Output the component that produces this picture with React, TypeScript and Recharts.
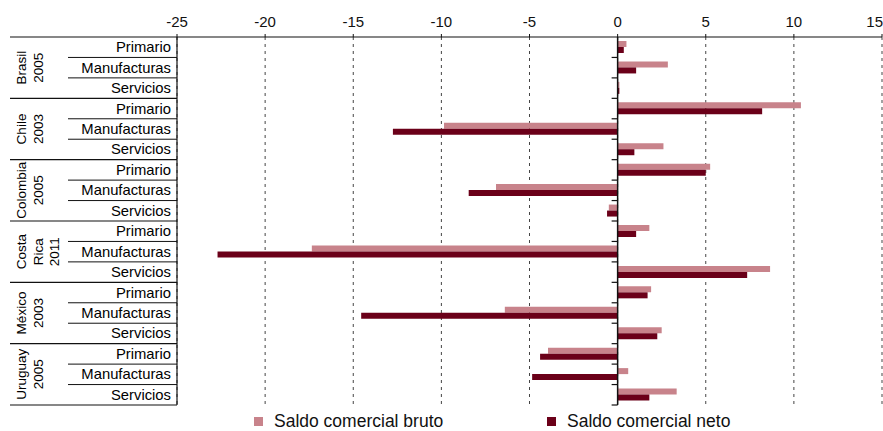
import React from "react";
import {
  BarChart,
  Bar,
  XAxis,
  YAxis,
  CartesianGrid,
  ReferenceLine,
} from "recharts";

const sectors = ["Primario", "Manufacturas", "Servicios"];
const groups = [
  ["Brasil", "2005"],
  ["Chile", "2003"],
  ["Colombia", "2005"],
  ["Costa", "Rica", "2011"],
  ["México", "2003"],
  ["Uruguay", "2005"],
];
// saldo comercial bruto / neto, one value per group x sector
const bruto = [0.5, 2.85, 0.1, 10.4, -9.85, 2.6, 5.25, -6.9, -0.5, 1.8, -17.35, 8.65, 1.9, -6.4, 2.5, -3.95, 0.6, 3.35];
const neto = [0.35, 1.05, 0.1, 8.2, -12.75, 0.95, 5.0, -8.45, -0.6, 1.05, -22.7, 7.35, 1.7, -14.55, 2.25, -4.4, -4.85, 1.8];
const xTicks = [-25, -20, -15, -10, -5, 0, 5, 10, 15];

const W = 883;
const H = 431;
const LEFT = 177;
const TOP = 37;
const BOTTOM = 405;
const X_MIN = -25;
const X_MAX = 15;

const BRUTO_COLOR = "#c8838b";
const NETO_COLOR = "#6b0019";
const FONT = "'Liberation Sans', Arial, sans-serif";

const data = bruto.map((b, i) => ({
  key: String(i),
  sector: sectors[i % 3],
  bruto: b,
  neto: neto[i],
}));

const band = (BOTTOM - TOP) / data.length;
const zeroX = LEFT + ((0 - X_MIN) / (X_MAX - X_MIN)) * (W - 1 - LEFT);

function ValueTick(props: any) {
  const { x, y, payload } = props;
  const last = payload.value === X_MAX;
  return (
    <text
      x={last ? x + 1 : x}
      y={y}
      textAnchor={last ? "end" : "middle"}
      fontSize={15}
      fontFamily={FONT}
      fill="#111"
    >
      {payload.value}
    </text>
  );
}

function CategoryTick(props: any) {
  const { y, payload } = props;
  const i = Number(payload.value);
  const row = data[i];
  const lowY = y + band / 2;
  const groupEnd = i % 3 === 2;
  const g = Math.floor(i / 3);
  return (
    <g>
      <text
        x={LEFT - 6}
        y={y}
        dy={5}
        textAnchor="end"
        fontSize={14.8}
        fontFamily={FONT}
        fill="#000"
      >
        {row.sector}
      </text>
      {i === 0 && (
        <line x1={10} x2={LEFT} y1={y - band / 2} y2={y - band / 2} stroke="#111" strokeWidth={1.2} />
      )}
      <line
        x1={groupEnd ? 10 : 68}
        x2={LEFT}
        y1={lowY}
        y2={lowY}
        stroke="#111"
        strokeWidth={groupEnd ? 1.2 : 1}
      />
      <line x1={zeroX - 6} x2={zeroX} y1={lowY} y2={lowY} stroke="#111" strokeWidth={1.2} />
      {i % 3 === 1 && (
        <text
          transform={`translate(26, ${y}) rotate(-90)`}
          textAnchor="middle"
          fontSize={13.5}
          fontFamily={FONT}
          fill="#000"
        >
          {groups[g].map((line, k) => (
            <tspan key={k} x={0} dy={k === 0 ? 0 : 16.5}>
              {line}
            </tspan>
          ))}
        </text>
      )}
    </g>
  );
}

function LegendBox() {
  const item = (color: string, label: string, left: number) => (
    <div
      style={{
        position: "absolute",
        left,
        top: 411,
        display: "flex",
        alignItems: "center",
        fontFamily: FONT,
        fontSize: 17.5,
        color: "#111",
        whiteSpace: "nowrap",
      }}
    >
      <span
        style={{
          display: "inline-block",
          width: 9,
          height: 9,
          background: color,
          marginRight: 11,
        }}
      />
      {label}
    </div>
  );
  return (
    <>
      {item(BRUTO_COLOR, "Saldo comercial bruto", 254)}
      {item(NETO_COLOR, "Saldo comercial neto", 547)}
    </>
  );
}

export default function App() {
  return (
    <div style={{ position: "absolute", left: 0, top: 0, width: W, height: H, background: "#fff" }}>
      <BarChart
        width={W}
        height={H}
        data={data}
        layout="vertical"
        margin={{ top: 7, right: 1, bottom: H - BOTTOM, left: 0 }}
        barSize={6}
        barGap={0}
      >
        <CartesianGrid horizontal={false} stroke="#444" strokeDasharray="3 4" />
        <XAxis
          type="number"
          orientation="top"
          domain={[X_MIN, X_MAX]}
          ticks={xTicks}
          height={30}
          interval={0}
          tickSize={3}
          tickMargin={7}
          axisLine={{ stroke: "#111", strokeWidth: 1.2 }}
          tickLine={{ stroke: "#111" }}
          tick={<ValueTick />}
        />
        <YAxis
          type="category"
          dataKey="key"
          width={LEFT}
          interval={0}
          tickLine={false}
          axisLine={{ stroke: "#111", strokeWidth: 1.2 }}
          tick={<CategoryTick />}
        />
        <ReferenceLine x={0} stroke="#111" strokeWidth={1.5} />
        <Bar dataKey="bruto" fill={BRUTO_COLOR} isAnimationActive={false} />
        <Bar dataKey="neto" fill={NETO_COLOR} isAnimationActive={false} />
      </BarChart>
      <LegendBox />
    </div>
  );
}
